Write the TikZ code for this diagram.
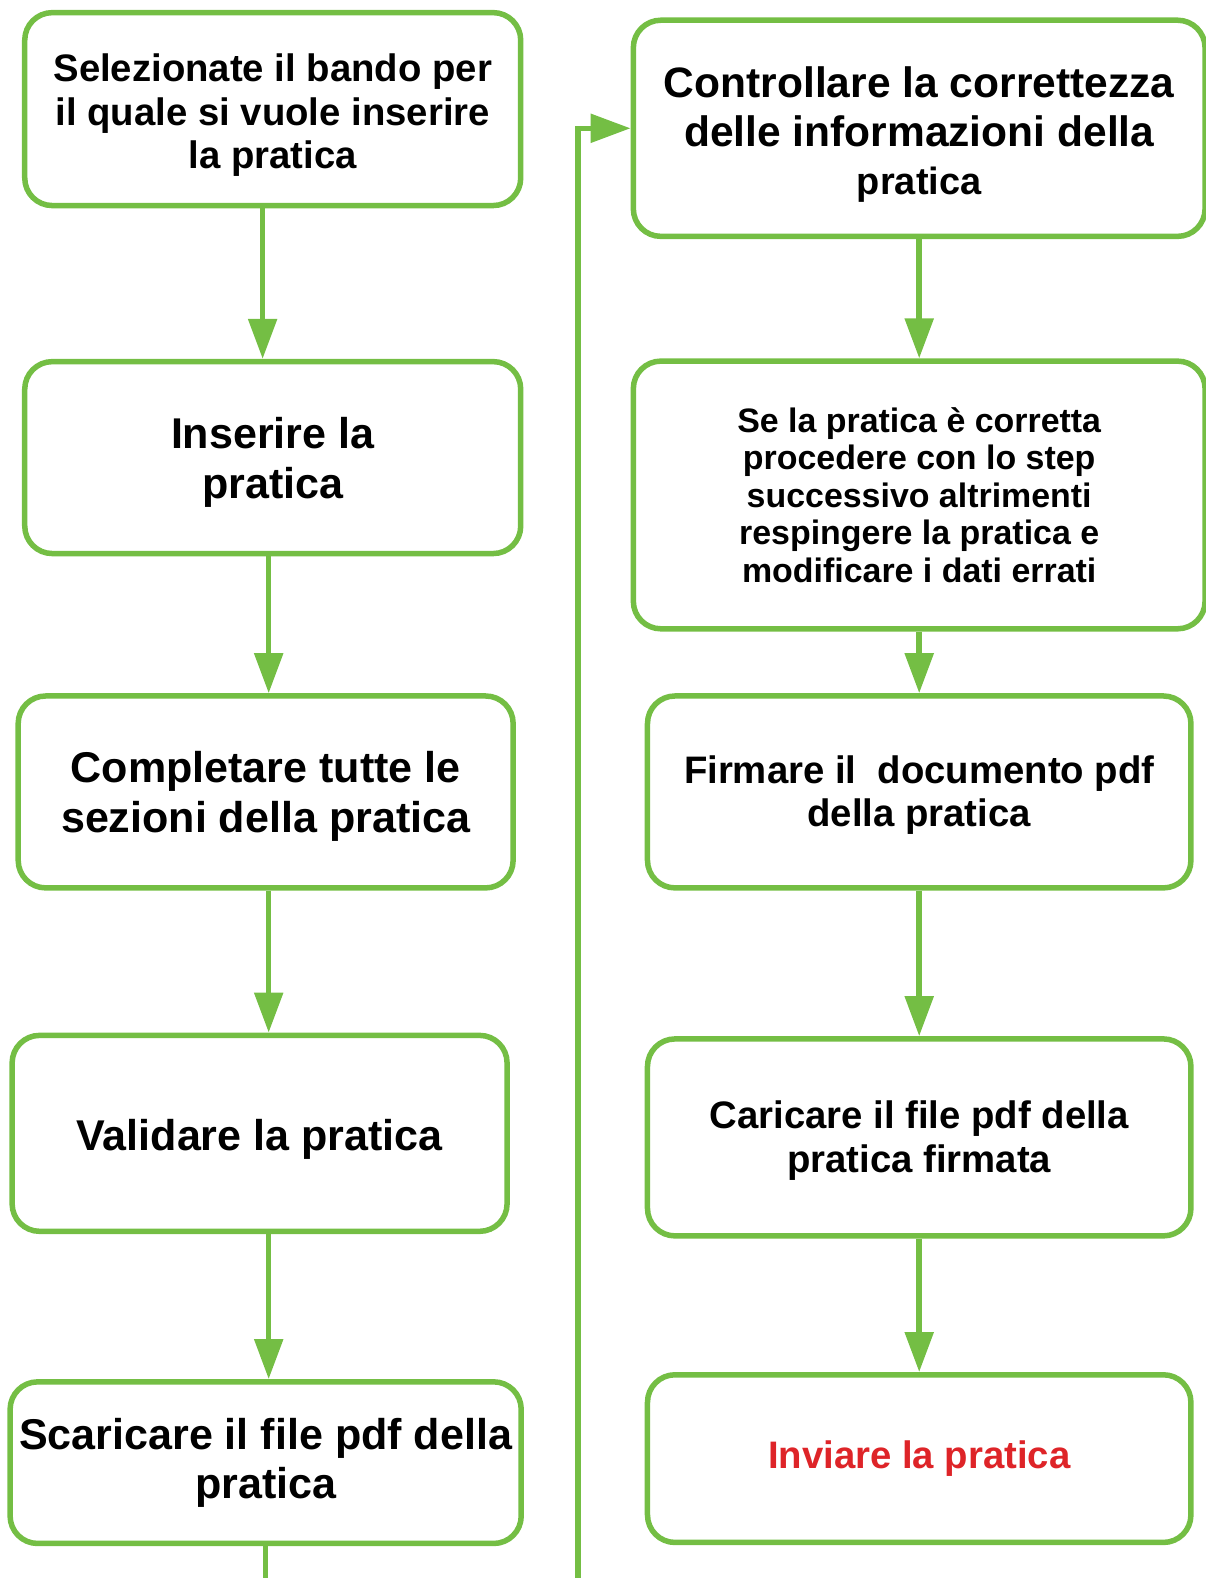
\documentclass[tikz,border=0pt]{standalone}
\usepackage{fontspec}
\setmainfont{Liberation Sans}
\usepackage{tikz}
\usetikzlibrary{arrows.meta}
\usetikzlibrary{calc}
\definecolor{flowgreen}{RGB}{116,190,68}
\definecolor{sendred}{RGB}{222,36,40}
\tikzset{stepbox/.style={draw=flowgreen,line width=0.11cm,rounded corners=0.55cm,
                         fill=white,align=center,inner sep=0pt}}
\tikzset{bigtext/.style={font=\fontsize{24.5}{28}\selectfont\bfseries}}
\tikzset{smalltext/.style={font=\fontsize{21.8}{24.6}\selectfont\bfseries}}
\def\pxunit{0.0202cm}
% taller first line, pushes the text a bit lower in its box
\newcommand{\toprule}[1]{\rule{0pt}{#1}}
\begin{document}
\begin{tikzpicture}[x=\pxunit,y=-\pxunit,>={Triangle[length=0.8cm,width=0.56cm]}]
    \tikzstyle{flow}=[->,draw=flowgreen,line width=0.11cm,color=flowgreen]

    % Left column
    \node[stepbox,smalltext,minimum width=491*\pxunit,minimum height=191*\pxunit] (L-1) at (273,111)
        {\toprule{22.8pt}Selezionate il bando per\\il quale si vuole inserire\\la pratica};
    \node[stepbox,bigtext,minimum width=491*\pxunit,minimum height=190*\pxunit] (L-2) at (273,456)
        {\toprule{23.2pt}Inserire la\\pratica};
    \node[stepbox,bigtext,minimum width=490*\pxunit,minimum height=190*\pxunit] (L-3) at (266,787)
        {\toprule{22.7pt}Completare tutte le\\sezioni della pratica};
    \node[stepbox,bigtext,minimum width=490*\pxunit,minimum height=194*\pxunit] (L-4) at (260,1125)
        {\toprule{24.4pt}Validare la pratica};
    \node[stepbox,bigtext,minimum width=506*\pxunit,minimum height=160*\pxunit] (L-5) at (266,1451)
        {Scaricare il file pdf della\\pratica};

    % Right column
    \node[stepbox,font=\fontsize{24.2}{27.4}\selectfont\bfseries,minimum width=566*\pxunit,minimum height=214*\pxunit] (R-1) at (913,130)
        {\toprule{24.8pt}Controllare la correttezza\\delle informazioni della\\\fontsize{21.6}{25.5}\selectfont pratica};
    \node[stepbox,font=\fontsize{19.3}{21.4}\selectfont\bfseries,minimum width=566*\pxunit,minimum height=265*\pxunit] (R-2) at (913,493)
        {Se la pratica è corretta\\procedere con lo step\\successivo altrimenti\\respingere la pratica e\\modificare i dati errati};
    \node[stepbox,smalltext,minimum width=538*\pxunit,minimum height=190*\pxunit] (R-3) at (913,787)
        {\toprule{19pt}Firmare il\ \ documento pdf\\della pratica};
    \node[stepbox,smalltext,minimum width=538*\pxunit,minimum height=195*\pxunit] (R-4) at (913,1129)
        {\toprule{19.5pt}Caricare il file pdf della\\pratica firmata};
    \node[stepbox,smalltext,text=sendred,minimum width=538*\pxunit,minimum height=166*\pxunit] (R-5) at (913,1447)
        {Inviare la pratica};

    % Connect the steps of the left column
    \foreach \a/\b/\s in {1/2/-10,2/3/-4,3/4/3,4/5/9}
        \draw[flow] ($(L-\a.south)+(\s,0)$) -- ($(L-\a.south |- L-\b.north)+(\s,0)$);

    % Connect the steps of the right column
    \foreach \a/\b in {1/2,2/3,3/4,4/5}
        \draw[flow] (R-\a.south) -- (R-\b.north);

    % From the last left step back up to the right column
    \coordinate (back) at (575,1640);
    \draw[flow] (L-5.south) |- (back) |- (R-1.west);

    \pgfresetboundingbox
    \useasboundingbox (3,3) rectangle (1196,1565.2);
\end{tikzpicture}
\end{document}
